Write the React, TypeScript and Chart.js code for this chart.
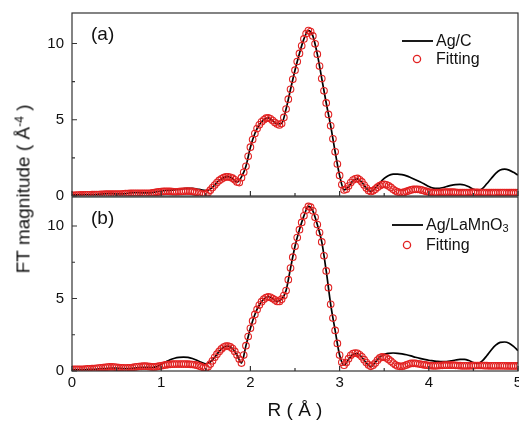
import React, { useEffect, useRef } from "react";
import { Chart, registerables } from "chart.js";
Chart.register(...registerables);

// R grid of the measured curves (Å)
const rValues = [
  0.0, 0.05, 0.1, 0.15, 0.2, 0.25, 0.3, 0.35, 0.4, 0.45,
  0.5, 0.55, 0.6, 0.65, 0.7, 0.75, 0.8, 0.85, 0.9, 0.95,
  1.0, 1.05, 1.1, 1.15, 1.2, 1.25, 1.3, 1.35, 1.4, 1.45,
  1.5, 1.55, 1.6, 1.65, 1.7, 1.75, 1.8, 1.85, 1.9, 1.95,
  2.0, 2.05, 2.1, 2.15, 2.2, 2.25, 2.3, 2.35, 2.4, 2.45,
  2.5, 2.55, 2.6, 2.65, 2.7, 2.75, 2.8, 2.85, 2.9, 2.95,
  3.0, 3.05, 3.1, 3.15, 3.2, 3.25, 3.3, 3.35, 3.4, 3.45,
  3.5, 3.55, 3.6, 3.65, 3.7, 3.75, 3.8, 3.85, 3.9, 3.95,
  4.0, 4.05, 4.1, 4.15, 4.2, 4.25, 4.3, 4.35, 4.4, 4.45,
  4.5, 4.55, 4.6, 4.65, 4.7, 4.75, 4.8, 4.85, 4.9, 4.95,
  5.0,
];

// (a) Ag/C experimental
const agCData = [
  0.08, 0.08, 0.09, 0.1, 0.1, 0.1, 0.12, 0.14, 0.15, 0.15,
  0.14, 0.14, 0.16, 0.2, 0.22, 0.22, 0.2, 0.2, 0.22, 0.28,
  0.33, 0.36, 0.37, 0.4, 0.44, 0.48, 0.5, 0.5, 0.46, 0.4,
  0.36, 0.45, 0.72, 1.02, 1.2, 1.27, 1.15, 0.9, 1.25, 1.95,
  3.2, 4.1, 4.67, 5.0, 5.12, 4.95, 4.72, 4.75, 5.7, 7.0,
  8.25, 9.35, 10.3, 10.85, 10.5, 9.3, 7.7, 6.1, 4.6, 2.9,
  1.35, 0.4, 0.6, 1.0, 1.12, 0.9, 0.5, 0.3, 0.5, 0.85,
  1.15, 1.35, 1.43, 1.44, 1.4, 1.32, 1.2, 1.07, 0.93, 0.78,
  0.62, 0.52, 0.5, 0.54, 0.62, 0.7, 0.75, 0.76, 0.72, 0.6,
  0.44, 0.36, 0.48, 0.8, 1.15, 1.48, 1.7, 1.76, 1.7, 1.55,
  1.37,
];

// (b) Ag/LaMnO3 experimental
const agLaMnO3Data = [
  0.1, 0.1, 0.1, 0.1, 0.11, 0.12, 0.14, 0.16, 0.18, 0.2,
  0.2, 0.18, 0.16, 0.17, 0.2, 0.24, 0.26, 0.25, 0.24, 0.3,
  0.45, 0.62, 0.78, 0.88, 0.94, 0.96, 0.94, 0.86, 0.74, 0.6,
  0.5, 0.62, 0.95, 1.35, 1.65, 1.72, 1.55, 1.1, 0.55, 1.75,
  2.95, 3.9, 4.55, 4.95, 5.12, 5.0, 4.8, 4.95, 5.55, 7.1,
  8.6, 9.75, 10.7, 11.35, 11.05, 10.1, 8.9, 6.9, 4.6, 2.8,
  1.1, 0.4, 0.8, 1.15, 1.2, 0.95, 0.55, 0.3, 0.6, 0.95,
  1.15, 1.22, 1.24, 1.22, 1.18, 1.12, 1.04, 0.95, 0.87, 0.8,
  0.74, 0.7, 0.66, 0.64, 0.65, 0.7, 0.76, 0.8, 0.8, 0.72,
  0.58, 0.53, 0.7, 1.05, 1.45, 1.78, 1.97, 2.0, 1.92, 1.7,
  1.4,
];

// R grid of the fitted curves (Å)
const fitR = [
  0.0, 0.025, 0.05, 0.075, 0.1, 0.125, 0.15, 0.175, 0.2, 0.225,
  0.25, 0.275, 0.3, 0.325, 0.35, 0.375, 0.4, 0.425, 0.45, 0.475,
  0.5, 0.525, 0.55, 0.575, 0.6, 0.625, 0.65, 0.675, 0.7, 0.725,
  0.75, 0.775, 0.8, 0.825, 0.85, 0.875, 0.9, 0.925, 0.95, 0.975,
  1.0, 1.025, 1.05, 1.075, 1.1, 1.125, 1.15, 1.175, 1.2, 1.225,
  1.25, 1.275, 1.3, 1.325, 1.35, 1.375, 1.4, 1.425, 1.45, 1.475,
  1.5, 1.525, 1.55, 1.575, 1.6, 1.625, 1.65, 1.675, 1.7, 1.725,
  1.75, 1.775, 1.8, 1.825, 1.85, 1.875, 1.9, 1.925, 1.95, 1.975,
  2.0, 2.025, 2.05, 2.075, 2.1, 2.125, 2.15, 2.175, 2.2, 2.225,
  2.25, 2.275, 2.3, 2.325, 2.35, 2.375, 2.4, 2.425, 2.45, 2.475,
  2.5, 2.525, 2.55, 2.575, 2.6, 2.625, 2.65, 2.675, 2.7, 2.725,
  2.75, 2.775, 2.8, 2.825, 2.85, 2.875, 2.9, 2.925, 2.95, 2.975,
  3.0, 3.025, 3.05, 3.075, 3.1, 3.125, 3.15, 3.175, 3.2, 3.225,
  3.25, 3.275, 3.3, 3.325, 3.35, 3.375, 3.4, 3.425, 3.45, 3.475,
  3.5, 3.525, 3.55, 3.575, 3.6, 3.625, 3.65, 3.675, 3.7, 3.725,
  3.75, 3.775, 3.8, 3.825, 3.85, 3.875, 3.9, 3.925, 3.95, 3.975,
  4.0, 4.025, 4.05, 4.075, 4.1, 4.125, 4.15, 4.175, 4.2, 4.225,
  4.25, 4.275, 4.3, 4.325, 4.35, 4.375, 4.4, 4.425, 4.45, 4.475,
  4.5, 4.525, 4.55, 4.575, 4.6, 4.625, 4.65, 4.675, 4.7, 4.725,
  4.75, 4.775, 4.8, 4.825, 4.85, 4.875, 4.9, 4.925, 4.95, 4.975,
  5.0,
];

// (a) Fitting
const agCFit = [
  0.05, 0.05, 0.06, 0.06, 0.07, 0.07, 0.08, 0.08, 0.08, 0.09,
  0.09, 0.1, 0.1, 0.11, 0.11, 0.12, 0.12, 0.12, 0.12, 0.12,
  0.12, 0.12, 0.13, 0.14, 0.15, 0.16, 0.17, 0.18, 0.18, 0.18,
  0.18, 0.18, 0.17, 0.17, 0.17, 0.18, 0.2, 0.22, 0.25, 0.27,
  0.29, 0.3, 0.31, 0.31, 0.3, 0.29, 0.28, 0.28, 0.29, 0.3,
  0.31, 0.32, 0.32, 0.31, 0.3, 0.27, 0.24, 0.19, 0.14, 0.11,
  0.12, 0.22, 0.38, 0.55, 0.72, 0.88, 1.02, 1.12, 1.2, 1.25,
  1.26, 1.23, 1.17, 1.06, 0.92, 0.88, 1.2, 1.55, 1.95, 2.6,
  3.2, 3.7, 4.1, 4.42, 4.67, 4.87, 5.0, 5.1, 5.12, 5.06,
  4.95, 4.82, 4.72, 4.66, 4.75, 5.15, 5.7, 6.35, 7.0, 7.65,
  8.25, 8.82, 9.35, 9.85, 10.3, 10.65, 10.85, 10.78, 10.5, 9.98,
  9.3, 8.52, 7.7, 6.9, 6.1, 5.35, 4.6, 3.75, 2.9, 2.1,
  1.35, 0.75, 0.4, 0.45, 0.65, 0.88, 1.05, 1.13, 1.15, 1.06,
  0.92, 0.72, 0.52, 0.36, 0.3, 0.34, 0.45, 0.58, 0.68, 0.75,
  0.76, 0.73, 0.66, 0.56, 0.44, 0.34, 0.27, 0.23, 0.22, 0.25,
  0.3, 0.35, 0.4, 0.43, 0.44, 0.44, 0.42, 0.38, 0.34, 0.3,
  0.26, 0.24, 0.22, 0.22, 0.22, 0.23, 0.24, 0.25, 0.25, 0.25,
  0.25, 0.25, 0.24, 0.23, 0.22, 0.22, 0.22, 0.22, 0.23, 0.24,
  0.24, 0.24, 0.24, 0.23, 0.23, 0.22, 0.22, 0.22, 0.22, 0.22,
  0.22, 0.23, 0.23, 0.23, 0.23, 0.22, 0.22, 0.22, 0.22, 0.22,
  0.22,
];

// (b) Fitting
const agLaMnO3Fit = [
  0.12, 0.12, 0.12, 0.12, 0.12, 0.12, 0.13, 0.14, 0.15, 0.16,
  0.17, 0.19, 0.2, 0.22, 0.24, 0.26, 0.27, 0.28, 0.28, 0.27,
  0.26, 0.24, 0.22, 0.21, 0.2, 0.21, 0.22, 0.24, 0.27, 0.29,
  0.31, 0.32, 0.33, 0.33, 0.32, 0.3, 0.28, 0.28, 0.3, 0.33,
  0.36, 0.39, 0.42, 0.44, 0.46, 0.47, 0.48, 0.48, 0.48, 0.48,
  0.48, 0.48, 0.47, 0.46, 0.45, 0.43, 0.4, 0.35, 0.3, 0.24,
  0.2, 0.3, 0.48, 0.7, 0.95, 1.16, 1.35, 1.52, 1.65, 1.71,
  1.72, 1.66, 1.55, 1.35, 1.1, 0.82, 0.55, 1.1, 1.75, 2.38,
  2.95, 3.45, 3.9, 4.25, 4.55, 4.78, 4.95, 5.06, 5.12, 5.08,
  5.0, 4.9, 4.8, 4.8, 4.95, 5.2, 5.55, 6.3, 7.1, 7.85,
  8.6, 9.2, 9.75, 10.25, 10.7, 11.1, 11.35, 11.3, 11.05, 10.6,
  10.1, 9.55, 8.9, 7.95, 6.9, 5.75, 4.6, 3.65, 2.8, 1.9,
  1.1, 0.6, 0.4, 0.58, 0.85, 1.08, 1.2, 1.24, 1.22, 1.12,
  0.98, 0.78, 0.58, 0.42, 0.32, 0.4, 0.55, 0.75, 0.9, 0.97,
  0.95, 0.9, 0.8, 0.68, 0.55, 0.43, 0.35, 0.32, 0.32, 0.36,
  0.42, 0.48, 0.52, 0.53, 0.53, 0.5, 0.48, 0.45, 0.42, 0.4,
  0.38, 0.37, 0.36, 0.36, 0.37, 0.38, 0.39, 0.4, 0.4, 0.4,
  0.4, 0.4, 0.39, 0.38, 0.37, 0.36, 0.36, 0.36, 0.36, 0.37,
  0.37, 0.38, 0.38, 0.38, 0.38, 0.37, 0.37, 0.36, 0.36, 0.36,
  0.36, 0.36, 0.36, 0.36, 0.36, 0.35, 0.35, 0.35, 0.35, 0.35,
  0.35,
];

const xTicks = [0, 1, 2, 3, 4, 5];
const xMinorTicks = [0.5, 1.5, 2.5, 3.5, 4.5];
const yTicks = [0, 5, 10];
const yMinorTicks = [2.5, 7.5];

const FONT = '"Liberation Sans", Arial, Helvetica, sans-serif';
const RED = "rgb(226,34,34)";
const FRAME = "#333";

type LegendSpec = {
  lineX: number;
  lineY: number;
  label: string;
  sub?: string;
  fitY: number;
};

function makePanelPlugin(panelLabel: string, legend: LegendSpec, drawXTitle: boolean) {
  return {
    id: "panelDecor" + panelLabel.replace(/[()]/g, ""),
    afterDraw(chart: any) {
      const ctx = chart.ctx as CanvasRenderingContext2D;
      const { left, right, top, bottom } = chart.chartArea;
      const xs = chart.scales.x;
      const ys = chart.scales.y;
      ctx.save();
      // frame
      ctx.strokeStyle = FRAME;
      ctx.lineWidth = 1.2;
      ctx.strokeRect(left, top, right - left, bottom - top);
      // inward ticks
      ctx.beginPath();
      xTicks.forEach((v) => {
        const px = xs.getPixelForValue(v);
        ctx.moveTo(px, bottom);
        ctx.lineTo(px, bottom - 5);
      });
      xMinorTicks.forEach((v) => {
        const px = xs.getPixelForValue(v);
        ctx.moveTo(px, bottom);
        ctx.lineTo(px, bottom - 3);
      });
      yTicks.forEach((v) => {
        const py = ys.getPixelForValue(v);
        ctx.moveTo(left, py);
        ctx.lineTo(left + 5, py);
      });
      yMinorTicks.forEach((v) => {
        const py = ys.getPixelForValue(v);
        ctx.moveTo(left, py);
        ctx.lineTo(left + 3, py);
      });
      ctx.stroke();

      // panel label
      ctx.fillStyle = "#111";
      ctx.font = `19px ${FONT}`;
      ctx.textBaseline = "middle";
      ctx.textAlign = "left";
      ctx.fillText(panelLabel, left + 19, top + 22);

      // legend
      ctx.strokeStyle = "#000";
      ctx.lineWidth = 1.8;
      ctx.beginPath();
      ctx.moveTo(legend.lineX, legend.lineY);
      ctx.lineTo(legend.lineX + 31, legend.lineY);
      ctx.stroke();
      ctx.font = `16px ${FONT}`;
      const tx = legend.lineX + 34;
      ctx.fillText(legend.label, tx, legend.lineY + 1);
      if (legend.sub) {
        const w = ctx.measureText(legend.label).width;
        ctx.font = `11px ${FONT}`;
        ctx.fillText(legend.sub, tx + w, legend.lineY + 4);
        ctx.font = `16px ${FONT}`;
      }
      ctx.strokeStyle = RED;
      ctx.lineWidth = 1.3;
      ctx.beginPath();
      ctx.arc(legend.lineX + 15, legend.fitY, 3.6, 0, Math.PI * 2);
      ctx.stroke();
      ctx.fillText("Fitting", tx, legend.fitY + 1);

      if (drawXTitle) {
        ctx.font = `19px ${FONT}`;
        ctx.textAlign = "center";
        ctx.textBaseline = "middle";
        ctx.fillText("R ( Å )", (left + right) / 2, chart.height - 11);
      }
      ctx.restore();
    },
  };
}

function buildConfig(
  expData: number[],
  fitData: number[],
  showX: boolean,
  plugin: any,
  padTop: number,
  padBottom: number
): any {
  return {
    type: "line",
    data: {
      datasets: [
        {
          label: "fit",
          data: fitR.map((r, i) => ({ x: r, y: fitData[i] })),
          showLine: false,
          pointRadius: 3.3,
          pointStyle: "circle",
          pointBorderColor: RED,
          pointBackgroundColor: "rgba(0,0,0,0)",
          pointBorderWidth: 1.1,
          borderColor: RED,
          order: 0,
        },
        {
          label: "exp",
          data: rValues.map((r, i) => ({ x: r, y: expData[i] })),
          borderColor: "#000",
          borderWidth: 1.7,
          pointRadius: 0,
          cubicInterpolationMode: "monotone",
          fill: false,
          order: 1,
        },
      ],
    },
    options: {
      responsive: false,
      animation: false,
      devicePixelRatio: 1,
      layout: {
        autoPadding: false,
        padding: { top: padTop, right: 1, left: 0, bottom: padBottom },
      },
      plugins: {
        legend: { display: false },
        tooltip: { enabled: false },
        title: { display: false },
      },
      scales: {
        x: {
          type: "linear",
          min: 0,
          max: 5,
          display: showX,
          grid: { display: false, drawTicks: false },
          border: { display: false },
          afterBuildTicks: (s: any) => {
            s.ticks = xTicks.map((v) => ({ value: v }));
          },
          afterFit: (s: any) => {
            if (showX) s.height = 51;
            s.paddingLeft = 0;
            s.paddingRight = 0;
          },
          ticks: {
            color: "#111",
            font: { family: FONT, size: 15 },
            padding: 3,
            maxRotation: 0,
            autoSkip: false,
          },
        },
        y: {
          type: "linear",
          min: 0,
          max: 12,
          grid: { display: false, drawTicks: false },
          border: { display: false },
          afterBuildTicks: (s: any) => {
            s.ticks = yTicks.map((v) => ({ value: v }));
          },
          afterFit: (s: any) => {
            s.width = 72;
            s.paddingTop = 0;
            s.paddingBottom = 0;
          },
          ticks: {
            color: "#111",
            font: { family: FONT, size: 15 },
            padding: 8,
          },
        },
      },
    },
    plugins: [plugin],
  };
}

export default function App() {
  const topRef = useRef<HTMLCanvasElement | null>(null);
  const botRef = useRef<HTMLCanvasElement | null>(null);

  useEffect(() => {
    document.body.style.margin = "0";
    const topChart = new Chart(
      topRef.current as HTMLCanvasElement,
      buildConfig(
        agCData,
        agCFit,
        false,
        makePanelPlugin("(a)", { lineX: 402, lineY: 41, label: "Ag/C", fitY: 59 }, false),
        13,
        14
      )
    );
    const botChart = new Chart(
      botRef.current as HTMLCanvasElement,
      buildConfig(
        agLaMnO3Data,
        agLaMnO3Fit,
        true,
        makePanelPlugin(
          "(b)",
          { lineX: 392, lineY: 29, label: "Ag/LaMnO", sub: "3", fitY: 49 },
          true
        ),
        1,
        0
      )
    );
    return () => {
      topChart.destroy();
      botChart.destroy();
    };
  }, []);

  return (
    <div
      style={{
        position: "absolute",
        left: 0,
        top: 0,
        width: 519,
        height: 422,
        background: "#fff",
        overflow: "hidden",
      }}
    >
      <canvas
        ref={topRef}
        width={519}
        height={210}
        style={{ position: "absolute", left: 0, top: 0, width: 519, height: 210 }}
      />
      <canvas
        ref={botRef}
        width={519}
        height={226}
        style={{ position: "absolute", left: 0, top: 196, width: 519, height: 226 }}
      />
      <div
        style={{
          position: "absolute",
          left: 23,
          top: 189,
          transform: "translate(-50%, -50%) rotate(-90deg)",
          whiteSpace: "nowrap",
          fontFamily: FONT,
          fontSize: 19,
          color: "#111",
          lineHeight: 1,
        }}
      >
        FT magnitude ( Å<sup style={{ fontSize: 12, verticalAlign: "6px", lineHeight: 0 }}>-4</sup> )
      </div>
    </div>
  );
}
